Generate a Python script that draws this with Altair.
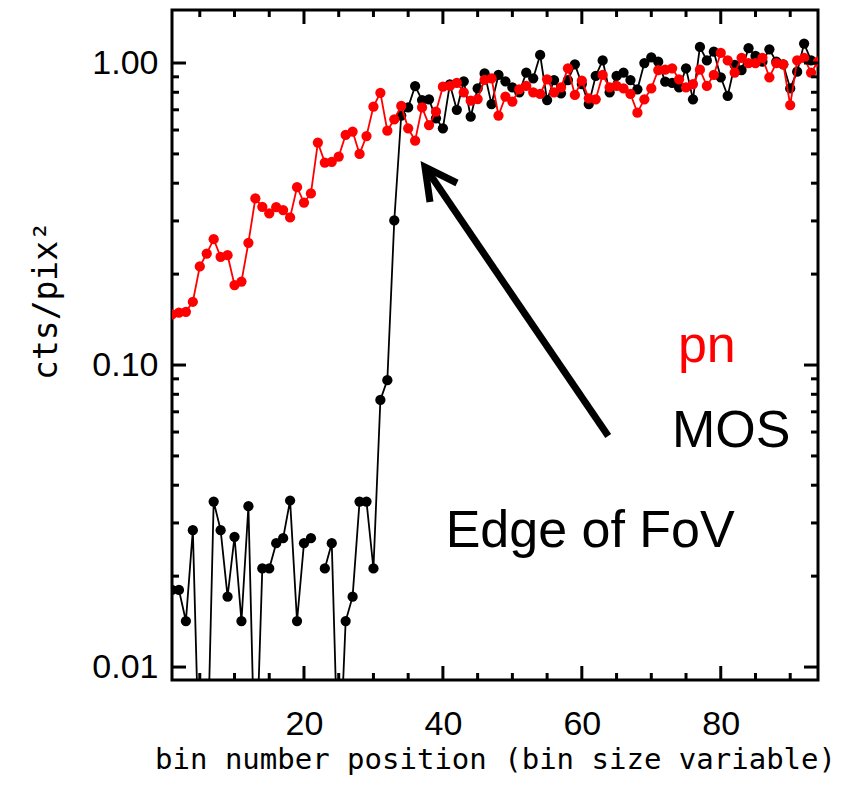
import altair as alt
import pandas as pd

# ---------------- data ----------------
pn_bins = list(range(1, 95))
pn_counts = [0.147, 0.149, 0.150, 0.162, 0.212, 0.234, 0.261, 0.228, 0.231, 0.184,
             0.189, 0.254, 0.356, 0.334, 0.318, 0.333, 0.326, 0.308, 0.388, 0.345,
             0.370, 0.545, 0.468, 0.471, 0.490, 0.578, 0.593, 0.500, 0.573, 0.717,
             0.797, 0.597, 0.651, 0.721, 0.608, 0.553, 0.713, 0.623, 0.690, 0.835,
             0.840, 0.860, 0.800, 0.750, 0.760, 0.880, 0.890, 0.670, 0.774, 0.745,
             0.818, 0.840, 0.800, 0.790, 0.883, 0.800, 0.830, 0.960, 0.784, 0.874,
             0.764, 0.758, 0.913, 0.830, 0.840, 0.824, 0.790, 0.685, 0.758, 0.824,
             0.948, 0.950, 0.960, 0.883, 0.830, 0.852, 0.950, 0.840, 0.913, 1.080,
             1.020, 0.930, 1.040, 1.000, 1.000, 1.040, 0.897, 1.000, 0.990, 0.726,
             1.020, 1.040, 0.930, 1.010]

mos_bins = list(range(1, 94))
mos_counts = [0.018, 0.018, 0.0142, 0.0284, 0.004, 0.004, 0.0353, 0.0284, 0.0171, 0.0270,
              0.0142, 0.0341, 0.004, 0.0212, 0.0212, 0.0257, 0.0267, 0.0356, 0.0142, 0.0257,
              0.0267, None, 0.0212, 0.0257, 0.004, 0.0142, 0.0171, 0.0353, 0.0353, 0.0212,
              0.0766, 0.0891, 0.301, 0.670, 0.713, 0.839, 0.754, 0.758, 0.656, 0.608,
              0.850, 0.700, 0.870, 0.664, 0.824, 0.924, 0.731, 0.913, 0.870, 0.830,
              0.800, 0.929, 0.890, 1.063, 0.754, 0.878, 0.794, 0.878, 0.990, 0.852,
              0.731, 0.906, 1.020, 0.800, 0.906, 0.929, 0.878, 0.818, 1.000, 1.044,
              1.010, 0.867, 0.860, 0.830, 0.960, 0.758, 1.130, 1.020, 1.090, 0.897,
              0.778, 0.985, 0.948, 1.120, 1.055, 1.010, 1.110, 1.010, 0.990, 0.824,
              0.936, 1.160, 1.020]
mos_segment = [0] * 21 + [1] * 72

x_ticks_major = [20, 40, 60, 80]
x_ticks_minor = [5, 10, 15, 25, 30, 35, 45, 50, 55, 65, 70, 75, 85, 90]
y_ticks_major = [0.01, 0.1, 1.0]
y_ticks_minor = [0.02, 0.03, 0.04, 0.05, 0.06, 0.07, 0.08, 0.09,
                 0.2, 0.3, 0.4, 0.5, 0.6, 0.7, 0.8, 0.9]

label_text = ["pn", "MOS", "Edge of FoV"]
label_x = [78.0, 81.5, 61.2]
label_y = [0.1023, 0.0535, 0.0250]
label_color = ["#ff0000", "#000000", "#000000"]

arrow_shaft_x = [63.8, 37.42]
arrow_shaft_y = [0.0582, 0.4524]
arrow_head_x = [38.14, 37.42, 42.03]
arrow_head_y = [0.3466, 0.4524, 0.4006]

# ---------------- chart ----------------
W, H = 646, 670
xscale = alt.Scale(domain=[1, 94], nice=False, zero=False)
yscale = alt.Scale(type="log", domain=[0.00906, 1.498], nice=False)

pn_df = pd.DataFrame({"bin": pn_bins, "cts": pn_counts})
mos_df = pd.DataFrame({"bin": mos_bins, "cts": mos_counts, "seg": mos_segment})

xaxis = alt.Axis(values=x_ticks_major, format="d", ticks=False, domain=False, grid=False,
                 labelFont="Liberation Sans", labelFontSize=34, labelColor="black",
                 labelPadding=27, labelFlush=False, labelOverlap=False,
                 title="bin number position (bin size variable)",
                 titleFont="DejaVu Sans Mono", titleFontSize=29, titleFontWeight="normal",
                 titleColor="black", titleY=88, titleBaseline="alphabetic")
yaxis = alt.Axis(values=y_ticks_major, format=".2f", ticks=False, domain=False, grid=False,
                 labelFont="Liberation Sans", labelFontSize=34, labelColor="black",
                 labelPadding=14, labelFlush=False, labelOverlap=False,
                 title="cts/pix²", titleFont="DejaVu Sans Mono", titleFontSize=33,
                 titleFontWeight="normal", titleColor="black", titleAngle=270,
                 titleX=-116, titleY=290, titleAlign="center", titleBaseline="alphabetic")

X = lambda f: alt.X(f, scale=xscale, axis=xaxis)
Y = lambda f: alt.Y(f, scale=yscale, axis=yaxis)

mos_line = alt.Chart(mos_df).mark_line(color="black", strokeWidth=1.8, clip=True).encode(
    x=X("bin:Q"), y=Y("cts:Q"), detail="seg:N")
mos_pts = alt.Chart(mos_df).mark_circle(color="black", size=105, opacity=1, clip=True).encode(
    x=X("bin:Q"), y=Y("cts:Q"))
pn_line = alt.Chart(pn_df).mark_line(color="#ff0000", strokeWidth=1.8, clip=True).encode(
    x=X("bin:Q"), y=Y("cts:Q"))
pn_pts = alt.Chart(pn_df).mark_circle(color="#ff0000", size=105, opacity=1, clip=True).encode(
    x=X("bin:Q"), y=Y("cts:Q"))


def xticks(vals, length, side):
    df = pd.DataFrame({"bin": vals})
    if side == "bottom":
        yy, yy2 = alt.value(H), alt.value(H - length)
    else:
        yy, yy2 = alt.value(0), alt.value(length)
    return alt.Chart(df).mark_rule(color="black", strokeWidth=3).encode(
        x=X("bin:Q"), y=yy, y2=yy2)


def yticks(vals, length, side):
    df = pd.DataFrame({"cts": vals})
    if side == "left":
        xx, xx2 = alt.value(0), alt.value(length)
    else:
        xx, xx2 = alt.value(W), alt.value(W - length)
    return alt.Chart(df).mark_rule(color="black", strokeWidth=3).encode(
        y=Y("cts:Q"), x=xx, x2=xx2)


tick_layers = [
    xticks(x_ticks_major, 14, "bottom"), xticks(x_ticks_minor, 7, "bottom"),
    xticks(x_ticks_major, 14, "top"), xticks(x_ticks_minor, 7, "top"),
    yticks(y_ticks_major, 14, "left"), yticks(y_ticks_minor, 7, "left"),
    yticks(y_ticks_major, 14, "right"), yticks(y_ticks_minor, 7, "right"),
]

lab_df = pd.DataFrame({"bin": label_x, "cts": label_y, "t": label_text, "c": label_color})
labels = alt.Chart(lab_df).mark_text(font="Liberation Sans", fontSize=52, align="center",
                                     baseline="alphabetic").encode(
    x=X("bin:Q"), y=Y("cts:Q"), text="t:N", color=alt.Color("c:N", scale=None))

shaft_df = pd.DataFrame({"bin": arrow_shaft_x, "cts": arrow_shaft_y, "o": [0, 1]})
shaft = alt.Chart(shaft_df).mark_line(color="black", strokeWidth=7, strokeCap="butt").encode(
    x=X("bin:Q"), y=Y("cts:Q"), order="o:Q")
head_df = pd.DataFrame({"bin": arrow_head_x, "cts": arrow_head_y, "o": [0, 1, 2]})
head = alt.Chart(head_df).mark_line(color="black", strokeWidth=7, strokeJoin="miter",
                                    strokeCap="butt").encode(
    x=X("bin:Q"), y=Y("cts:Q"), order="o:Q")

chart = alt.layer(mos_line, mos_pts, pn_line, pn_pts, *tick_layers, labels, shaft, head).properties(
    width=W, height=H,
    autosize=alt.AutoSizeParams(type="none"),
    padding={"left": 164, "top": 2, "right": 20, "bottom": 100},
    background="white",
).configure_view(stroke="black", strokeWidth=3)

chart.save("out.html", embed_options={"renderer": "svg", "actions": False})
